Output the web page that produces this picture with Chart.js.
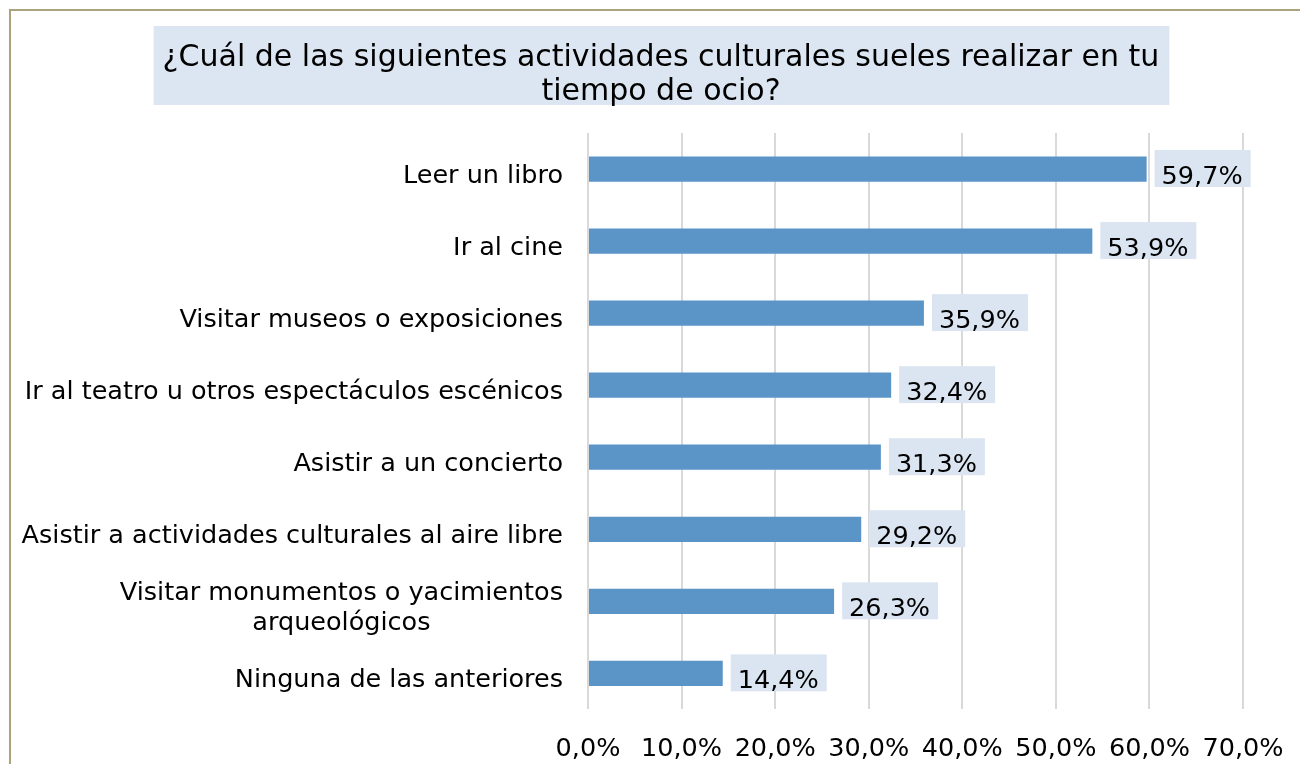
<!DOCTYPE html>
<html>
<head>
<meta charset="utf-8">
<script src="https://cdn.jsdelivr.net/npm/chart.js@4"></script>
<style>
  html, body { margin: 0; padding: 0; overflow: hidden; background: #fff; }
  #frame { position: absolute; left: 9px; top: 9px; width: 1300px; height: 779px; border: 2px solid #aaa37e; }
  canvas { display: block; }
</style>
</head>
<body>
<div id="frame"><canvas id="chart" width="1300" height="779"></canvas></div>
<script>
const titleLines = ["¿Cuál de las siguientes actividades culturales sueles realizar en tu", "tiempo de ocio?"]
const categories = [
  "Leer un libro",
  "Ir al cine",
  "Visitar museos o exposiciones",
  "Ir al teatro u otros espectáculos escénicos",
  "Asistir a un concierto",
  "Asistir a actividades culturales al aire libre",
  ["Visitar monumentos o yacimientos", "arqueológicos"],
  "Ninguna de las anteriores"
]
const values = [59.7, 53.9, 35.9, 32.4, 31.3, 29.2, 26.3, 14.4]
const xTicks = [0, 10, 20, 30, 40, 50, 60, 70]

const FONT = "\"DejaVu Sans\", Verdana, sans-serif"
const pct = (v) => v.toFixed(1).replace(".", ",") + "%"

// title drawn by hand so it can sit on its pale box across the full width
const titleBox = {
  id: "titleBox",
  beforeDraw(chart) {
    const { ctx } = chart
    ctx.save()
    ctx.font = "30px " + FONT
    const w = Math.max(...titleLines.map((t) => ctx.measureText(t).width))
    const cx = chart.width / 2
    ctx.fillStyle = "#dce6f2"
    ctx.fillRect(cx - w / 2 - 9, 15, w + 19, 79)
    ctx.fillStyle = "#000"
    ctx.textAlign = "center"
    ctx.textBaseline = "alphabetic"
    titleLines.forEach((t, i) => ctx.fillText(t, cx, 55 + i * 34))
    ctx.restore()
  }
}

const barLabels = {
  id: "barLabels",
  afterDatasetsDraw(chart) {
    const { ctx } = chart
    const meta = chart.getDatasetMeta(0)
    ctx.save()
    ctx.font = "25.5px " + FONT
    ctx.textBaseline = "alphabetic"
    ctx.textAlign = "left"
    meta.data.forEach((bar, i) => {
      const text = pct(values[i])
      const w = ctx.measureText(text).width
      const x0 = bar.x + 8
      ctx.fillStyle = "#dbe5f1"
      ctx.fillRect(x0, bar.y - 19, w + 15, 37)
      ctx.fillStyle = "#000"
      ctx.fillText(text, x0 + 7, bar.y + 15)
    })
    ctx.restore()
  }
}

const categoryLabels = {
  id: "categoryLabels",
  afterDraw(chart) {
    const { ctx } = chart
    const y = chart.scales.y
    const right = chart.chartArea.left - 25
    ctx.save()
    ctx.font = "25.5px " + FONT
    ctx.fillStyle = "#000"
    ctx.textAlign = "center"
    ctx.textBaseline = "alphabetic"
    categories.forEach((label, i) => {
      const lines = Array.isArray(label) ? label : [label]
      const maxW = Math.max(...lines.map((t) => ctx.measureText(t).width))
      const cx = right - maxW / 2
      const cy = y.getPixelForValue(i)
      lines.forEach((t, j) => {
        ctx.fillText(t, cx, cy + 14 + (j - (lines.length - 1) / 2) * 30)
      })
    })
    ctx.restore()
  }
}

const ctx = document.getElementById("chart").getContext("2d")
new Chart(ctx, {
  type: "bar",
  data: {
    labels: categories,
    datasets: [{
      data: values,
      backgroundColor: "#5b95c7",
      borderWidth: 0,
      barPercentage: 0.35,
      categoryPercentage: 1
    }]
  },
  options: {
    indexAxis: "y",
    responsive: false,
    animation: false,
    layout: { padding: { left: 569, right: 68, top: 122, bottom: 0 } },
    plugins: {
      legend: { display: false },
      tooltip: { enabled: false },
      title: { display: false }
    },
    scales: {
      x: {
        min: 0,
        max: 70,
        afterBuildTicks: (scale) => { scale.ticks = xTicks.map((v) => ({ value: v })) },
        grid: { color: "#d9d9d9", lineWidth: 2, drawTicks: false },
        border: { display: false },
        ticks: {
          color: "#000",
          padding: 25,
          maxRotation: 0,
          autoSkip: false,
          font: { family: FONT, size: 25.5 },
          callback: (v) => pct(v)
        }
      },
      y: {
        grid: { display: false },
        border: { display: false },
        ticks: { display: false }
      }
    }
  },
  plugins: [titleBox, barLabels, categoryLabels]
})
</script>
</body>
</html>
